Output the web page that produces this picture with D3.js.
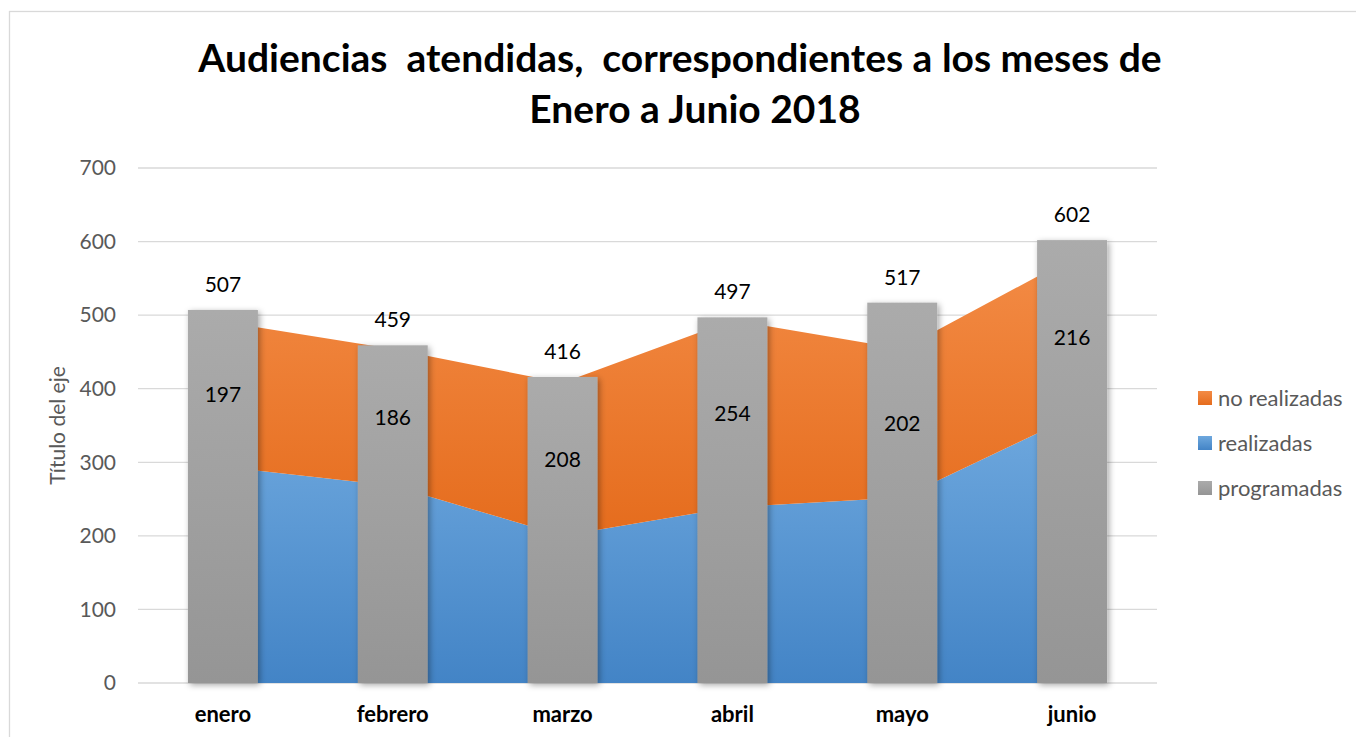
<!DOCTYPE html>
<html>
<head>
<meta charset="utf-8">
<script src="https://cdn.jsdelivr.net/npm/d3@7"></script>
<style>
  html, body { margin: 0; padding: 0; background: #fff; }
  svg { display: block; }
  text { font-family: Lato, "Open Sans", sans-serif; }
</style>
</head>
<body>
<svg id="chart" width="1356" height="737"></svg>
<script>
const categories = ["enero", "febrero", "marzo", "abril", "mayo", "junio"];
const programadas = [507, 459, 416, 497, 517, 602];
const realizadas = [294, 268, 200, 239, 252, 362];
const noRealizadas = [197, 186, 208, 254, 202, 216];
const yTicks = [0, 100, 200, 300, 400, 500, 600, 700];
const titleLines = ["Audiencias  atendidas,  correspondientes a los meses de", "Enero a Junio 2018"];
const legendItems = ["no realizadas", "realizadas", "programadas"];

const svg = d3.select("#chart");
const defs = svg.append("defs");

function vGrad(id, top, bottom) {
  const g = defs.append("linearGradient").attr("id", id)
    .attr("x1", 0).attr("y1", 0).attr("x2", 0).attr("y2", 1);
  g.append("stop").attr("offset", "0%").attr("stop-color", top);
  g.append("stop").attr("offset", "100%").attr("stop-color", bottom);
}
vGrad("gOrange", "#f38b45", "#e56c1d");
vGrad("gBlue", "#6ea8de", "#4384c6");
vGrad("gGray", "#ababab", "#959595");

const sh = defs.append("filter").attr("id", "shadow")
  .attr("x", "-30%").attr("y", "-10%").attr("width", "160%").attr("height", "120%");
sh.append("feDropShadow").attr("dx", 2).attr("dy", 2).attr("stdDeviation", 3)
  .attr("flood-color", "#000").attr("flood-opacity", 0.35);

// chart border
svg.append("rect").attr("x", 9.5).attr("y", 11.5).attr("width", 1400).attr("height", 800)
  .attr("fill", "none").attr("stroke", "#d9d9d9").attr("stroke-width", 1.3);

const x0 = 138, x1 = 1157;
const xCat = d3.scaleBand().domain(categories).range([x0, x1]).padding(0);
const xBar = d3.scaleBand().domain(categories).range([x0, x1]).paddingInner(0.588).paddingOuter(0.294);
const y = d3.scaleLinear().domain([0, 700]).range([683, 168]);
const cx = c => xCat(c) + xCat.bandwidth() / 2;

// gridlines
svg.append("g").selectAll("line").data(yTicks).join("line")
  .attr("x1", x0).attr("x2", x1)
  .attr("y1", d => y(d)).attr("y2", d => y(d))
  .attr("stroke", "#d9d9d9").attr("stroke-width", 1.3);

// y axis labels via d3 axis
const yAxis = svg.append("g").attr("transform", `translate(${x0},0)`)
  .call(d3.axisLeft(y).tickValues(yTicks).tickSize(0).tickPadding(22));
yAxis.select(".domain").remove();
yAxis.selectAll("text").attr("fill", "#595959").style("font-size", "21px")
  .style("font-family", "Lato, sans-serif");

// stacked areas
const rows = categories.map((c, i) => ({ cat: c, realizadas: realizadas[i], noRealizadas: noRealizadas[i] }));
const stack = d3.stack().keys(["realizadas", "noRealizadas"]);
const series = stack(rows);
const area = d3.area()
  .x(d => cx(d.data.cat))
  .y0(d => y(d[0]))
  .y1(d => y(d[1]));
const fills = { realizadas: "url(#gBlue)", noRealizadas: "url(#gOrange)" };
svg.append("g").selectAll("path").data(series).join("path")
  .attr("d", area)
  .attr("fill", s => fills[s.key]);

// bars
svg.append("g").selectAll("rect").data(categories).join("rect")
  .attr("x", c => xBar(c))
  .attr("width", xBar.bandwidth())
  .attr("y", (c, i) => y(programadas[i]))
  .attr("height", (c, i) => y(0) - y(programadas[i]))
  .attr("fill", "url(#gGray)")
  .attr("filter", "url(#shadow)");

// bar labels
svg.append("g").selectAll("text").data(categories).join("text")
  .attr("x", c => cx(c))
  .attr("y", (c, i) => y(programadas[i]) - 18)
  .attr("text-anchor", "middle")
  .attr("fill", "#000")
  .style("font-size", "21px")
  .text((c, i) => programadas[i]);

// no realizadas labels (centered in band)
svg.append("g").selectAll("text").data(series[1]).join("text")
  .attr("x", d => cx(d.data.cat))
  .attr("y", d => y((d[0] + d[1]) / 2))
  .attr("dy", "0.36em")
  .attr("text-anchor", "middle")
  .attr("fill", "#000")
  .style("font-size", "21px")
  .text(d => d.data.noRealizadas);

// category labels
svg.append("g").selectAll("text").data(categories).join("text")
  .attr("x", c => cx(c))
  .attr("y", 722)
  .attr("text-anchor", "middle")
  .attr("fill", "#000")
  .style("font-size", "22px")
  .style("font-weight", "bold")
  .text(c => c);

// y axis title
svg.append("text")
  .attr("transform", `translate(65,${(y(0) + y(700)) / 2}) rotate(-90)`)
  .attr("text-anchor", "middle")
  .attr("fill", "#595959")
  .style("font-size", "21px")
  .text("Título del eje");

// title
svg.append("g").selectAll("text").data(titleLines).join("text")
  .attr("x", (d, i) => i === 0 ? 680 : 695)
  .attr("y", (d, i) => 72 + i * 51)
  .attr("text-anchor", "middle")
  .attr("fill", "#000")
  .style("font-size", "39px")
  .style("font-weight", "bold")
  .style("white-space", "pre")
  .text(d => d);

// legend
const legendFills = ["url(#gOrange)", "url(#gBlue)", "url(#gGray)"];
const lg = svg.append("g").selectAll("g").data(legendItems).join("g")
  .attr("transform", (d, i) => `translate(1198,${391 + i * 45})`);
lg.append("rect").attr("width", 14).attr("height", 14)
  .attr("fill", (d, i) => legendFills[i]);
lg.append("text").attr("x", 20).attr("y", 7).attr("dy", "0.36em")
  .attr("fill", "#595959").style("font-size", "22px").text(d => d);
</script>
</body>
</html>
